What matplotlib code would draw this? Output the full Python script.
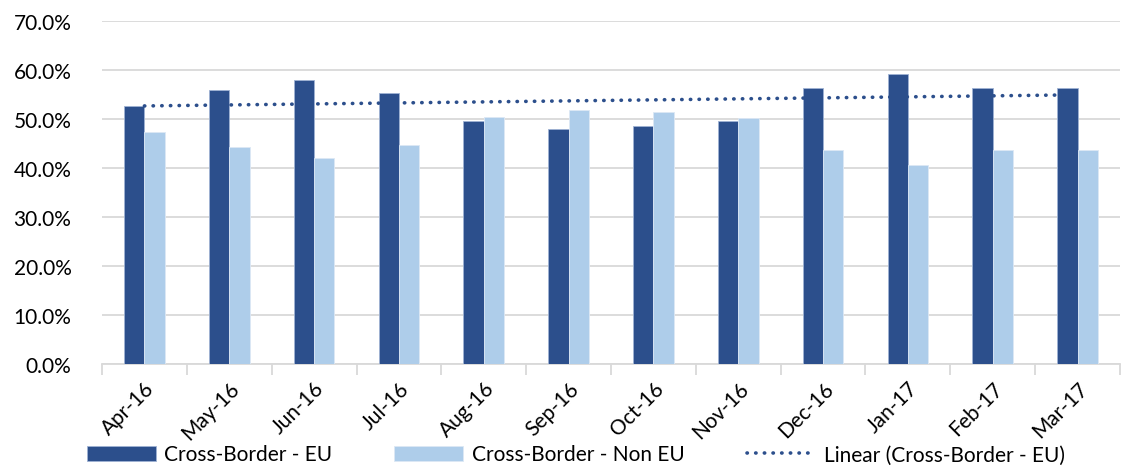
import matplotlib.pyplot as plt
from matplotlib.ticker import FuncFormatter
import numpy as np

months = ["Apr-16", "May-16", "Jun-16", "Jul-16", "Aug-16", "Sep-16",
          "Oct-16", "Nov-16", "Dec-16", "Jan-17", "Feb-17", "Mar-17"]
eu = [52.7, 55.9, 57.9, 55.3, 49.5, 48.0, 48.6, 49.5, 56.3, 59.2, 56.3, 56.4]
non_eu = [47.3, 44.2, 42.1, 44.7, 50.5, 51.9, 51.4, 50.3, 43.7, 40.7, 43.7, 43.6]

dark = "#2C4F8C"
light = "#AECDEA"

plt.rcParams['font.family'] = ['Lato', 'DejaVu Sans']

fig = plt.figure(figsize=(11.26, 4.77), dpi=100)
ax = fig.add_axes([102 / 1126, (477 - 365) / 477, (1120 - 102) / 1126, (365 - 22) / 477])

x = np.arange(len(months))
w = 0.24
b1 = ax.bar(x - w / 2, eu, w, color=dark, edgecolor="#9FB3D4", linewidth=0.6,
            label="Cross-Border - EU", zorder=3)
b2 = ax.bar(x + w / 2, non_eu, w, color=light, edgecolor="#DCE8F5", linewidth=0.6,
            label="Cross-Border - Non EU", zorder=3)

# Excel style linear trendline on the EU series
k, b = np.polyfit(x, eu, 1)
ln, = ax.plot(x, k * x + b, color=dark, linestyle=(0, (0.1, 2.3)), linewidth=2.6,
              dash_capstyle="round", label="Linear (Cross-Border - EU)", zorder=4)

ax.set_ylim(0, 70)
ax.set_xlim(-0.5, len(months) - 0.5)
ax.set_yticks(np.arange(0, 71, 10))
ax.yaxis.set_major_formatter(FuncFormatter(lambda v, p: f"{v:.1f}%"))
ax.grid(axis="y", color="#D9D9D9", linewidth=1.3, zorder=0)

# ticks between categories, labels at centres
ax.set_xticks(np.arange(-0.5, len(months), 1))
ax.set_xticklabels([])
ax.set_xticks(x, minor=True)
ax.set_xticklabels(months, minor=True, rotation=45, ha="right",
                   rotation_mode="anchor", fontsize=15)
ax.tick_params(axis="x", which="major", length=8, color="#D9D9D9", width=1.3)
ax.tick_params(axis="x", which="minor", length=0, pad=10)
ax.tick_params(axis="y", length=0, labelsize=15, pad=22)

for s in ["top", "right", "left"]:
    ax.spines[s].set_visible(False)
ax.spines["bottom"].set_color("#D9D9D9")
ax.spines["bottom"].set_linewidth(1.3)

fig.legend([b1, b2, ln], [b1.get_label(), b2.get_label(), ln.get_label()],
           loc="lower left", bbox_to_anchor=(68 / 1126, -0.015), ncol=3,
           frameon=False, fontsize=15, handlelength=3.3, handleheight=0.75,
           columnspacing=3.0, handletextpad=0.4)

fig.savefig("out.png", dpi=100)
